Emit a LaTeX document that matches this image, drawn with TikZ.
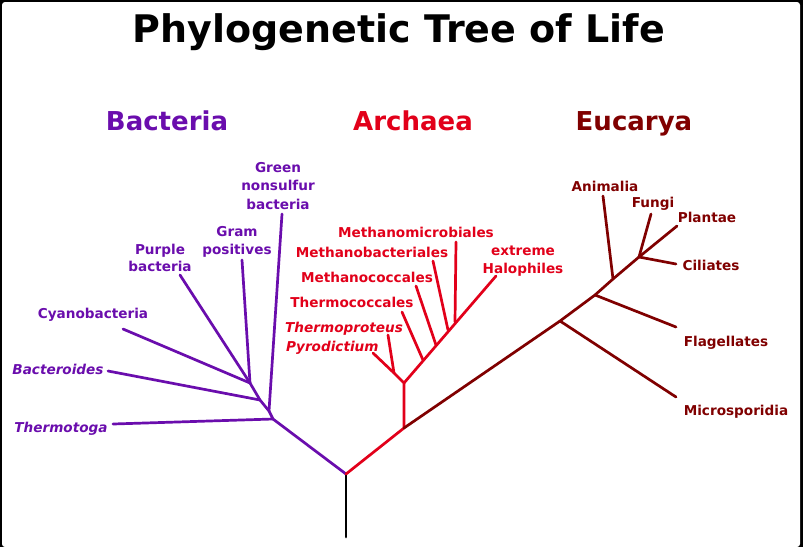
\documentclass[tikz,border=0pt]{standalone}
\usepackage{fontspec}
\setmainfont{DejaVu Sans}
\usetikzlibrary{positioning}
\definecolor{bactpurple}{HTML}{6A0DAD}
\definecolor{archred}{HTML}{E2001A}
\definecolor{eucmaroon}{HTML}{800000}

\tikzset{
  branch/.style={line width=2.7pt, line cap=round},
  taxon/.style={font=\fontsize{13.6}{17.5}\selectfont\bfseries, align=center, inner sep=0pt},
  taxonit/.style={taxon, font=\fontsize{13.6}{17.5}\selectfont\bfseries\itshape},
  domainlabel/.style={font=\fontsize{26}{30}\selectfont\bfseries, inner sep=0pt, anchor=base}
}

\begin{document}
\begin{tikzpicture}[x=1pt, y=-1pt]
  % Marco
  \fill[black] (0,0) rectangle (803,547);
  \fill[white, rounded corners=3pt] (2,2) rectangle (800,547);
  \useasboundingbox (0,0) rectangle (803,547);

  % Titulos
  \node[font=\fontsize{38}{44}\selectfont\bfseries, inner sep=0pt, anchor=base] (title) at (399,42) {Phylogenetic Tree of Life};
  \node[domainlabel, text=bactpurple] (bacteria) at (167,130) {Bacteria};
  \node[domainlabel, text=archred] (archaea) at (413,130) {Archaea};
  \node[domainlabel, text=eucmaroon] (eucarya) at (634,130) {Eucarya};

  % Puntos del arbol
  \coordinate (base) at (346,537);
  \coordinate (root) at (346,474);
  \coordinate (b1) at (273,419);
  \coordinate (b2) at (269,411);
  \coordinate (b3) at (260,400);
  \coordinate (b4) at (250,383);
  \coordinate (ae) at (404,428);
  \coordinate (a1) at (404,383);
  \coordinate (a2) at (394,373);
  \coordinate (a3) at (423,360);
  \coordinate (a4) at (436,345);
  \coordinate (a5) at (448,330);
  \coordinate (a6) at (455,322);
  \coordinate (e1) at (560,321);
  \coordinate (e2) at (595,295);
  \coordinate (e3) at (613,279);
  \coordinate (e4) at (639,257);

  % Hojas
  \coordinate (tThermotoga) at (113,424);
  \coordinate (tBacteroides) at (108,371);
  \coordinate (tCyano) at (123,329);
  \coordinate (tPurple) at (180,275);
  \coordinate (tGram) at (242,260);
  \coordinate (tGreen) at (282,214);
  \coordinate (tPyro) at (373,353);
  \coordinate (tTproteus) at (388,335);
  \coordinate (tTcocc) at (402,312);
  \coordinate (tMcocc) at (416,286);
  \coordinate (tMbact) at (433,261);
  \coordinate (tMmicro) at (456,242);
  \coordinate (tHalo) at (496,276);
  \coordinate (tMicro) at (676,397);
  \coordinate (tFlag) at (676,327);
  \coordinate (tAnim) at (603,196);
  \coordinate (tFungi) at (651,214);
  \coordinate (tCili) at (676,264);
  \coordinate (tPlant) at (677,226);

  % Ramas
  \draw[branch, black] (base) -- (root);
  \draw[branch, bactpurple] (root) -- (b1) -- (b2) -- (b3) -- (b4);
  \draw[branch, bactpurple] (b1) -- (tThermotoga);
  \draw[branch, bactpurple] (b2) -- (tGreen);
  \draw[branch, bactpurple] (b3) -- (tBacteroides);
  \draw[branch, bactpurple] (b4) -- (tCyano);
  \draw[branch, bactpurple] (b4) -- (tPurple);
  \draw[branch, bactpurple] (b4) -- (tGram);
  \draw[branch, archred] (root) -- (ae) -- (a1) -- (a2) -- (tPyro);
  \draw[branch, archred] (a2) -- (tTproteus);
  \draw[branch, archred] (a1) -- (tHalo);
  \draw[branch, archred] (a3) -- (tTcocc);
  \draw[branch, archred] (a4) -- (tMcocc);
  \draw[branch, archred] (a5) -- (tMbact);
  \draw[branch, archred] (a6) -- (tMmicro);
  \draw[branch, eucmaroon] (ae) -- (e1) -- (e2) -- (e3) -- (e4) -- (tPlant);
  \draw[branch, eucmaroon] (e1) -- (tMicro);
  \draw[branch, eucmaroon] (e2) -- (tFlag);
  \draw[branch, eucmaroon] (e3) -- (tAnim);
  \draw[branch, eucmaroon] (e4) -- (tFungi);
  \draw[branch, eucmaroon] (e4) -- (tCili);

  % Etiquetas Bacteria
  \node[taxon, text=bactpurple] (lGreen) at (278,186) {Green\\[1pt]nonsulfur\\[1pt]bacteria};
  \node[taxon, text=bactpurple] (lGram) at (237,242) {Gram\\positives};
  \node[taxon, text=bactpurple] (lPurple) at (160,258) {Purple\\bacteria};
  \node[taxon, text=bactpurple] (lCyano) at (93,315) {Cyanobacteria};
  \node[taxonit, text=bactpurple] (lBacteroides) at (58,369) {Bacteroides};
  \node[taxonit, text=bactpurple] (lThermotoga) at (61,429) {Thermotoga};

  % Etiquetas Archaea
  \node[taxon, text=archred] (lMmicro) at (416,232) {Methanomicrobiales};
  \node[taxon, text=archred] (lMbact) at (372,252) {Methanobacteriales};
  \node[taxon, text=archred] (lMcocc) at (367,277) {Methanococcales};
  \node[taxon, text=archred] (lTcocc) at (352,302) {Thermococcales};
  \node[taxonit, text=archred, anchor=west] (lTproteus) at (285,329) {Thermoproteus};
  \node[taxonit, text=archred, anchor=west] (lPyro) at (286,348) {Pyrodictium};
  \node[taxon, text=archred] (lHalo) at (523,261) {extreme\\Halophiles};

  % Etiquetas Eucarya
  \node[taxon, text=eucmaroon] (lAnim) at (605,186) {Animalia};
  \node[taxon, text=eucmaroon] (lFungi) at (653,204) {Fungi};
  \node[taxon, text=eucmaroon] (lPlant) at (707,217) {Plantae};
  \node[taxon, text=eucmaroon] (lCili) at (711,265) {Ciliates};
  \node[taxon, text=eucmaroon] (lFlag) at (726,343) {Flagellates};
  \node[taxon, text=eucmaroon] (lMicro) at (736,412) {Microsporidia};
\end{tikzpicture}
\end{document}
